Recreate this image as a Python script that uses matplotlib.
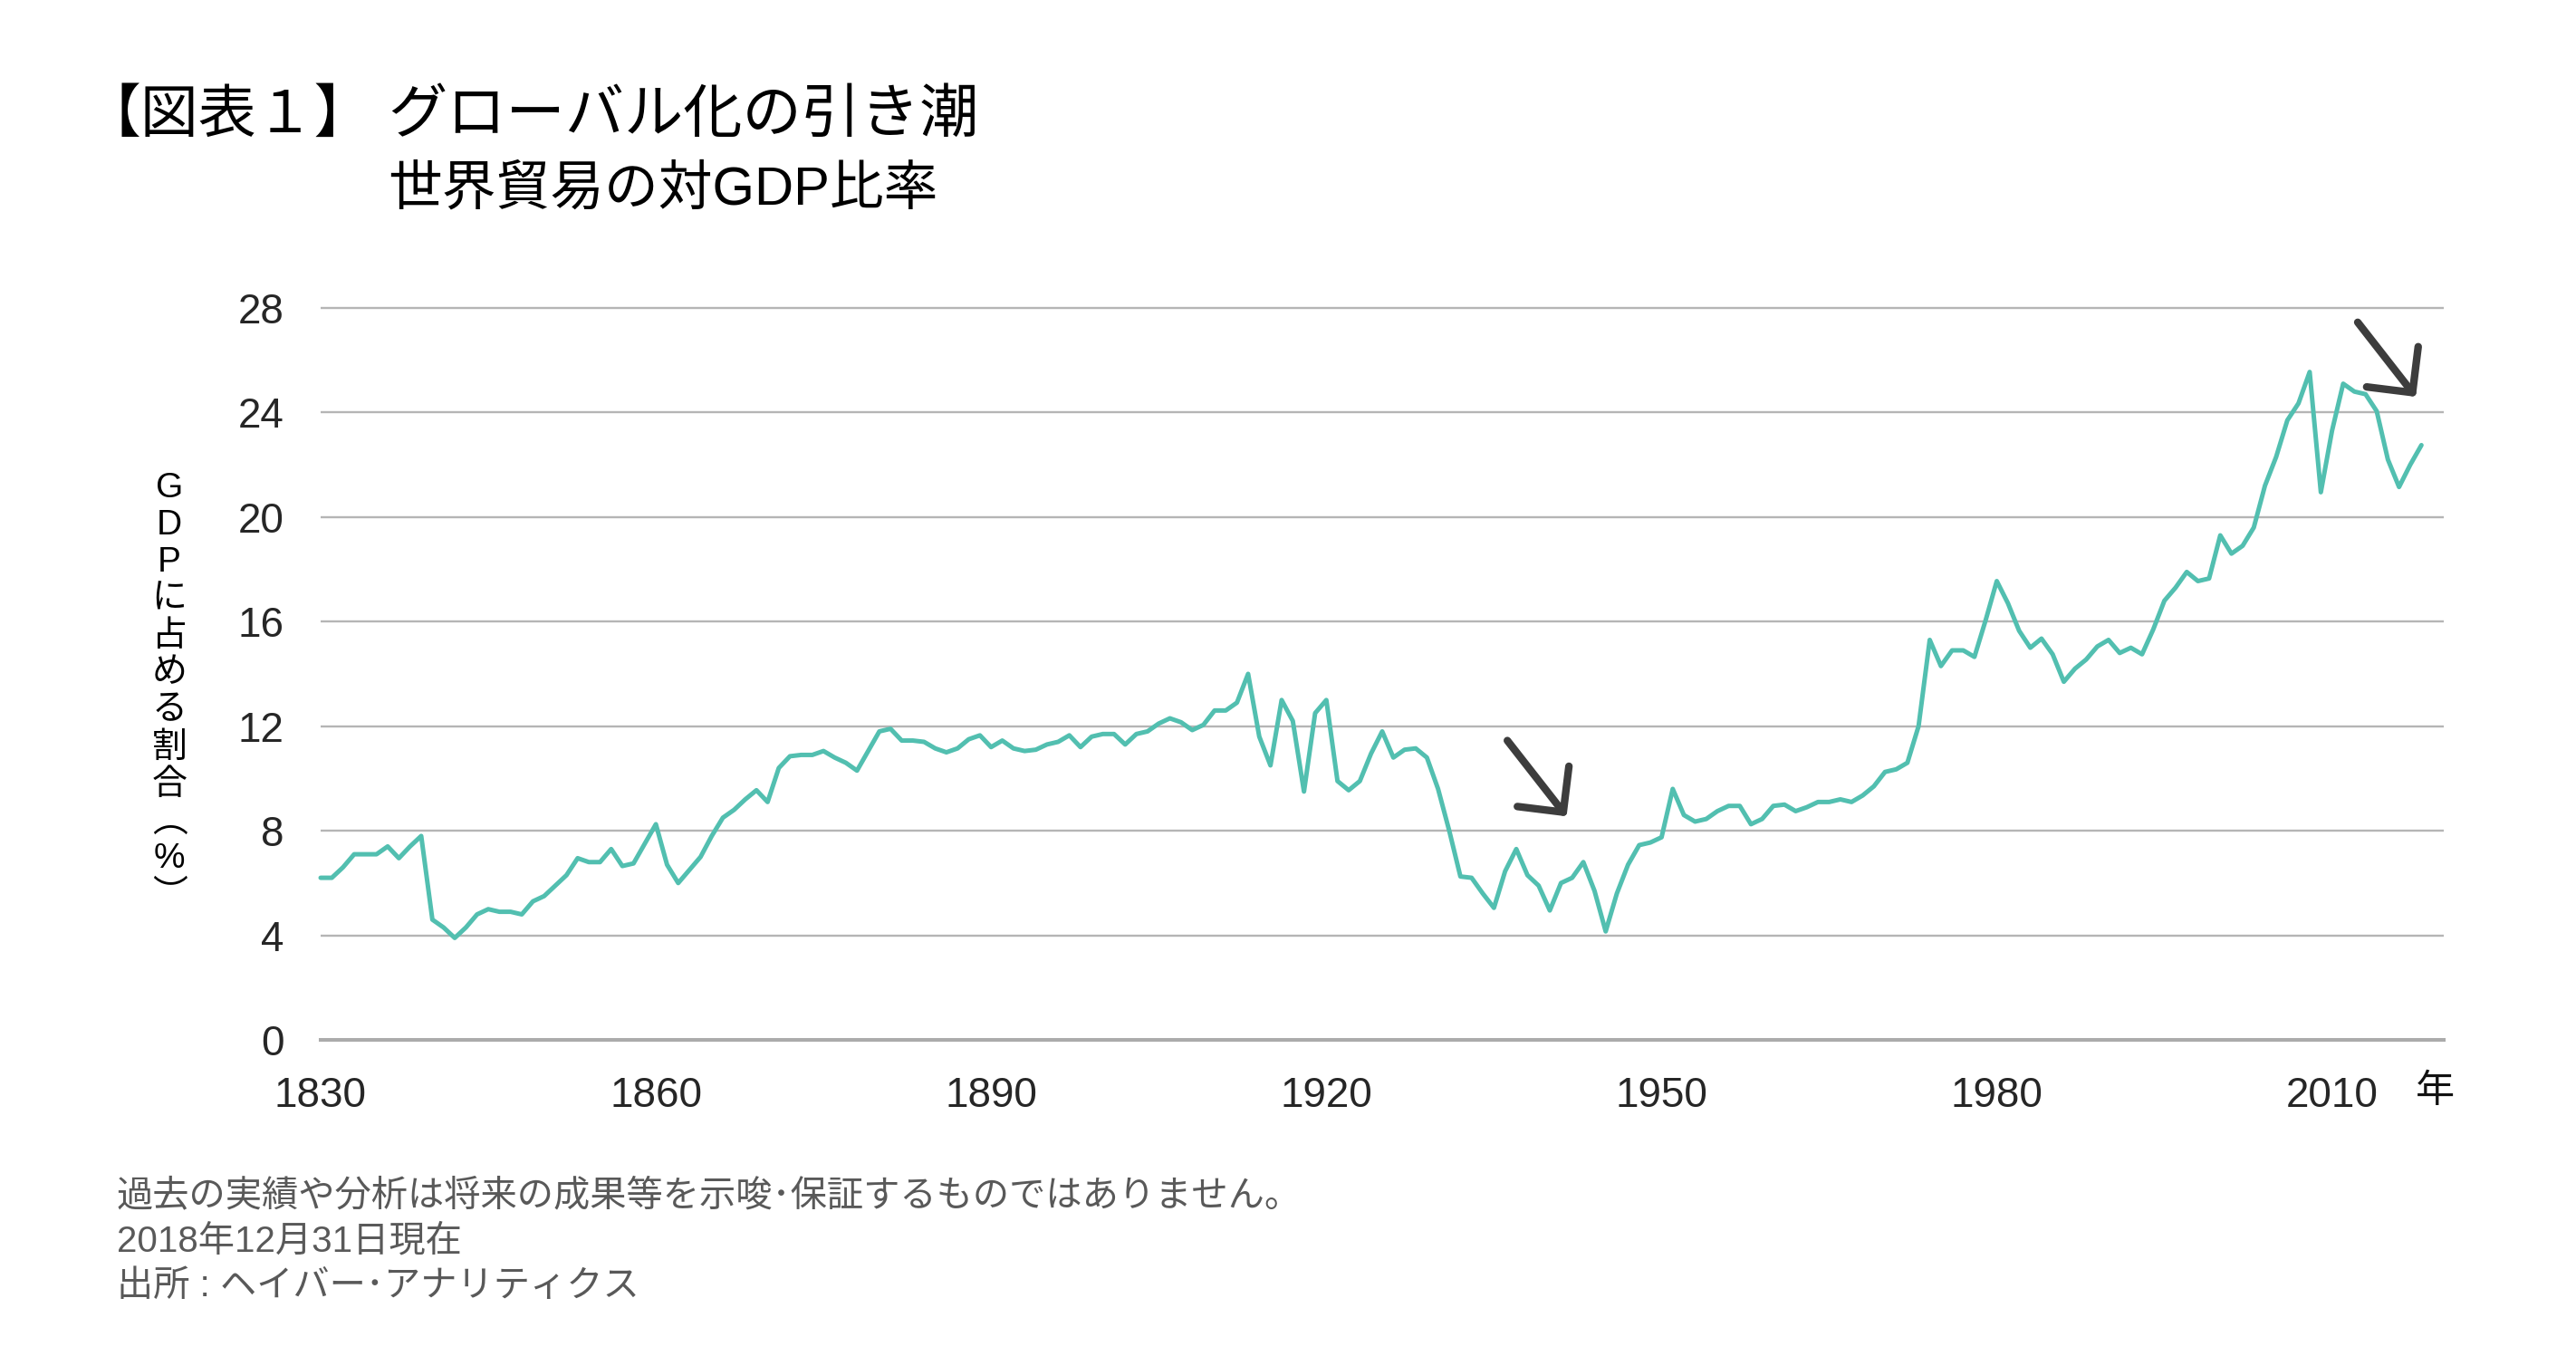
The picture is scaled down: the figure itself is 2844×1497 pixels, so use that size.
import matplotlib
matplotlib.use('Agg')
import matplotlib.pyplot as plt
import numpy as np

plt.rcParams['font.family'] = ['Liberation Sans', 'Noto Sans CJK JP']

# world trade as % of GDP, one value per year from 1830
start_year = 1830
trade_pct = [
    6.2, 6.2, 6.6, 7.1, 7.1, 7.1, 7.4, 6.95, 7.4, 7.8,            # 1830s
    4.6, 4.3, 3.9, 4.3, 4.8, 5.0, 4.9, 4.9, 4.8, 5.3,             # 1840s
    5.5, 5.9, 6.3, 6.95, 6.8, 6.8, 7.3, 6.65, 6.75, 7.5,          # 1850s
    8.25, 6.7, 6.0, 6.5, 7.0, 7.8, 8.5, 8.8, 9.2, 9.55,           # 1860s
    9.1, 10.4, 10.85, 10.9, 10.9, 11.05, 10.8, 10.6, 10.3, 11.05, # 1870s
    11.8, 11.9, 11.45, 11.45, 11.4, 11.15, 11.0, 11.15, 11.5, 11.65,
    11.2, 11.45, 11.15, 11.05, 11.1, 11.3, 11.4, 11.65, 11.2, 11.6,
    11.7, 11.7, 11.3, 11.7, 11.8, 12.1, 12.3, 12.15, 11.85, 12.05,
    12.6, 12.6, 12.9, 14.0, 11.6, 10.5, 13.0, 12.2, 9.5, 12.5,    # 1910s
    13.0, 9.9, 9.55, 9.9, 10.95, 11.8, 10.8, 11.1, 11.15, 10.8,
    9.6, 8.0, 6.25, 6.2, 5.6, 5.05, 6.45, 7.3, 6.3, 5.9,          # 1930s
    4.95, 6.0, 6.2, 6.8, 5.7, 4.15, 5.6, 6.7, 7.45, 7.55,
    7.75, 9.6, 8.6, 8.35, 8.45, 8.75, 8.95, 8.95, 8.25, 8.45,     # 1950s
    8.95, 9.0, 8.75, 8.9, 9.1, 9.1, 9.2, 9.1, 9.35, 9.7,
    10.25, 10.35, 10.6, 12.0, 15.3, 14.3, 14.9, 14.9, 14.65, 16.05,
    17.55, 16.7, 15.65, 15.0, 15.35, 14.75, 13.7, 14.2, 14.55, 15.05,
    15.3, 14.8, 15.0, 14.75, 15.7, 16.8, 17.3, 17.9, 17.55, 17.65,
    19.3, 18.6, 18.9, 19.6, 21.2, 22.3, 23.7, 24.35, 25.55, 20.95,  # 2000s
    23.3, 25.1, 24.8, 24.7, 24.05, 22.2, 21.15, 22.0, 22.75,        # 2010-2018
]
years = np.arange(start_year, start_year + len(trade_pct))

x_ticks = [1830, 1860, 1890, 1920, 1950, 1980, 2010]
y_ticks = [0, 4, 8, 12, 16, 20, 24, 28]

title_tag = '【図表１】'
title_main = 'グローバル化の引き潮'
subtitle = '世界貿易の対GDP比率'
y_label_chars = ['G', 'D', 'P', 'に', '占', 'め', 'る', '割', '合', '︵', '%', '︶']
x_unit = '年'
notes = [
    '過去の実績や分析は将来の成果等を示唆･保証するものではありません。',
    '2018年12月31日現在',
    '出所 : ヘイバー･アナリティクス',
]

# hand-drawn looking arrows: (from, to) in data units
arrows = [((1936.2, 11.45), (1941.5, 8.55)),
          ((2012.3, 27.45), (2017.5, 24.6))]

W, H = 2844, 1497
fig = plt.figure(figsize=(W / 100, H / 100), dpi=100)
ax = fig.add_axes([354 / W, 1 - 1148 / H, (2698 - 354) / W, (1148 - 325.5) / H])

ax.plot(years, trade_pct, color='#52bfb0', lw=3.6,
        solid_joinstyle='round', solid_capstyle='round', clip_on=False, zorder=3)

for a, b in arrows:
    ax.annotate('', xy=b, xytext=a,
                arrowprops=dict(arrowstyle='->, head_length=1.3, head_width=1.3',
                                mutation_scale=20, lw=6, color='#3d3d3d',
                                shrinkA=0, shrinkB=0, capstyle='round', joinstyle='round'))

ax.set_xlim(1830, 2020)
ax.set_ylim(0, 28.5)
ax.set_xticks(x_ticks)
ax.set_yticks(y_ticks)
ax.grid(axis='y', color='#b5b5b5', lw=1.7)
ax.set_axisbelow(True)
for s in ['top', 'right', 'left']:
    ax.spines[s].set_visible(False)
ax.spines['bottom'].set_color('#ababab')
ax.spines['bottom'].set_linewidth(2.9)
ax.tick_params(length=0, labelsize=33, labelcolor='#262626', pad=29)

# vertical y label, one character per line
for i, ch in enumerate(y_label_chars):
    fig.text(187 / W, 1 - (518 + 41 * (i + 0.5)) / H, ch, fontsize=28,
             ha='center', va='center', color='black')

fig.text(2688 / W, 1 - 1206 / H, x_unit, fontsize=31, ha='center', va='center', color='#111111')

fig.text(92 / W, 1 - 129 / H, title_tag, fontsize=46, ha='left', va='center', color='black')
fig.text(428 / W, 1 - 129 / H, title_main, fontsize=47, ha='left', va='center', color='black')
fig.text(428 / W, 1 - 210 / H, subtitle, fontsize=43, ha='left', va='center', color='black')

for i, line in enumerate(notes):
    fig.text(129 / W, 1 - (1320 + 50 * i) / H, line, fontsize=29,
             ha='left', va='center', color='#595959')

fig.savefig('out.png', dpi=100)
